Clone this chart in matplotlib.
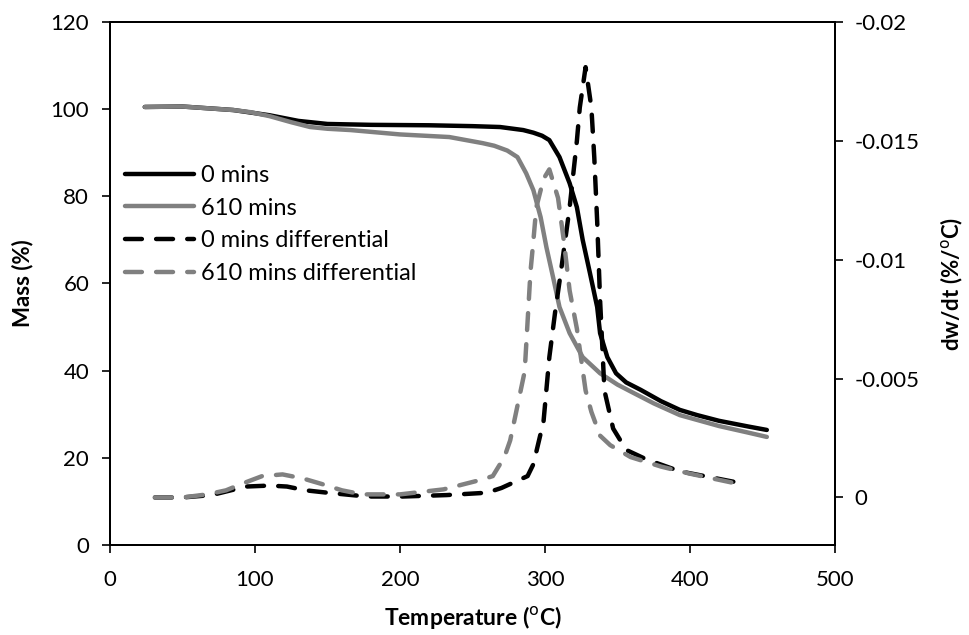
import numpy as np
import matplotlib
matplotlib.use("Agg")
import matplotlib.pyplot as plt

# TGA data
temp_0 = [24, 50, 85, 110, 130, 150, 180, 220, 250, 269, 285, 292, 298, 303, 310, 317,
          322, 326, 331, 336, 338, 343, 349, 356, 366, 380, 393, 405, 420, 440, 453]
mass_0 = [100.5, 100.6, 99.8, 98.6, 97.3, 96.6, 96.4, 96.3, 96.1, 95.9, 95.2, 94.6, 93.9,
          92.9, 89.0, 83.0, 77.5, 70.0, 62.4, 54.6, 48.6, 43.1, 39.4, 37.3, 35.6, 33.0,
          31.0, 29.8, 28.5, 27.2, 26.4]

temp_610 = [24, 50, 85, 97, 110, 125, 138, 150, 166, 200, 234, 257, 265, 274, 281, 287, 292,
            297, 301, 306, 310, 317, 326, 338, 350, 361, 375, 393, 420, 440, 453]
mass_610 = [100.5, 100.6, 99.8, 99.3, 98.4, 97.0, 95.9, 95.5, 95.2, 94.2, 93.6, 92.2, 91.6,
            90.5, 89.0, 85.3, 81.4, 75.2, 68.3, 60.8, 54.6, 48.6, 43.1, 39.4, 36.8, 34.9,
            32.5, 29.8, 27.3, 25.8, 24.8]

dtemp_0 = [31, 50, 70, 94, 110, 122, 135, 150, 177, 202, 232, 260, 270, 279, 288, 292, 299,
           303, 307, 311, 317, 322, 324, 328, 332, 334, 336, 338, 341, 347, 356, 370, 393,
           410, 431]
dw_0 = [0.0, 0.0, -0.0001, -0.00046, -0.0005, -0.00046, -0.0003, -0.0002, -0.00004,
        -0.00004, -0.0001, -0.0002, -0.0004, -0.00065, -0.0009, -0.0014, -0.0032, -0.0059,
        -0.0078, -0.0095, -0.0122, -0.015, -0.0164, -0.0181, -0.0164, -0.0143, -0.0116,
        -0.0083, -0.0045, -0.0029, -0.002, -0.0016, -0.0011, -0.0009, -0.00065]

dtemp_610 = [31, 50, 67, 80, 92, 105, 119, 133, 147, 160, 174, 200, 230, 257, 264, 272, 276,
             286, 288, 290, 292, 294, 299, 303, 309, 313, 317, 322, 328, 332, 338, 345, 359,
             380, 400, 431]
dw_610 = [0.0, 0.0, -0.00013, -0.0003, -0.0006, -0.0009, -0.00097, -0.0008, -0.00055,
          -0.0003, -0.00013, -0.00013, -0.00034, -0.00076, -0.0009, -0.0017, -0.0024,
          -0.0053, -0.0074, -0.0095, -0.0108, -0.0122, -0.0134, -0.0138, -0.0126, -0.0108,
          -0.0087, -0.0071, -0.0045, -0.0036, -0.0026, -0.0022, -0.0017, -0.0013, -0.001,
          -0.0006]

plt.rcParams['font.family'] = ['Lato', 'DejaVu Sans']

BLACK = "#000000"
GREY = "#808080"

fig = plt.figure(figsize=(9.69, 6.35), dpi=100)
ax = fig.add_axes([0.1135, 0.1417, 0.7482, 0.8237])
ax2 = ax.twinx()

lw = 3.2
l1, = ax.plot(temp_0, mass_0, color=BLACK, lw=lw, solid_capstyle="round", label="0 mins")
l2, = ax.plot(temp_610, mass_610, color=GREY, lw=lw, solid_capstyle="round", label="610 mins")
l3, = ax2.plot(dtemp_0, dw_0, color=BLACK, lw=lw, dashes=(3.8, 3.2),
               dash_capstyle="round", label="0 mins differential")
l4, = ax2.plot(dtemp_610, dw_610, color=GREY, lw=lw, dashes=(3.8, 3.2),
               dash_capstyle="round", label="610 mins differential")

ax.set_xlim(0, 500)
ax.set_ylim(0, 120)
ax.set_xticks(np.arange(0, 501, 100))
ax.set_yticks(np.arange(0, 121, 20))
ax2.set_ylim(0.002, -0.02)
ax2.set_yticks([0, -0.005, -0.01, -0.015, -0.02])
ax2.set_yticklabels(["0", "-0.005", "-0.01", "-0.015", "-0.02"])

for a in (ax, ax2):
    a.tick_params(labelsize=16, length=6, width=1.2, direction="out", pad=8)
    for s in a.spines.values():
        s.set_linewidth(1.4)
ax.tick_params(axis="x", pad=12)
ax.tick_params(axis="y", pad=9)

ax.set_xlabel("Temperature ($^{\\mathrm{o}}$C)", fontsize=16.5, fontweight="bold", labelpad=10)
ax.set_ylabel("Mass (%)", fontsize=16, fontweight="bold", labelpad=12)
ax2.set_ylabel("dw/dt (%/$^{\\mathrm{o}}$C)", fontsize=16, fontweight="bold", labelpad=14)

leg = ax2.legend(handles=[l1, l2, l3, l4], loc="upper left", bbox_to_anchor=(0.008, 0.745),
                 frameon=False, fontsize=17, handlelength=2.9, handletextpad=0.3,
                 labelspacing=0.5, borderaxespad=0)

fig.savefig("out.png", dpi=100)
